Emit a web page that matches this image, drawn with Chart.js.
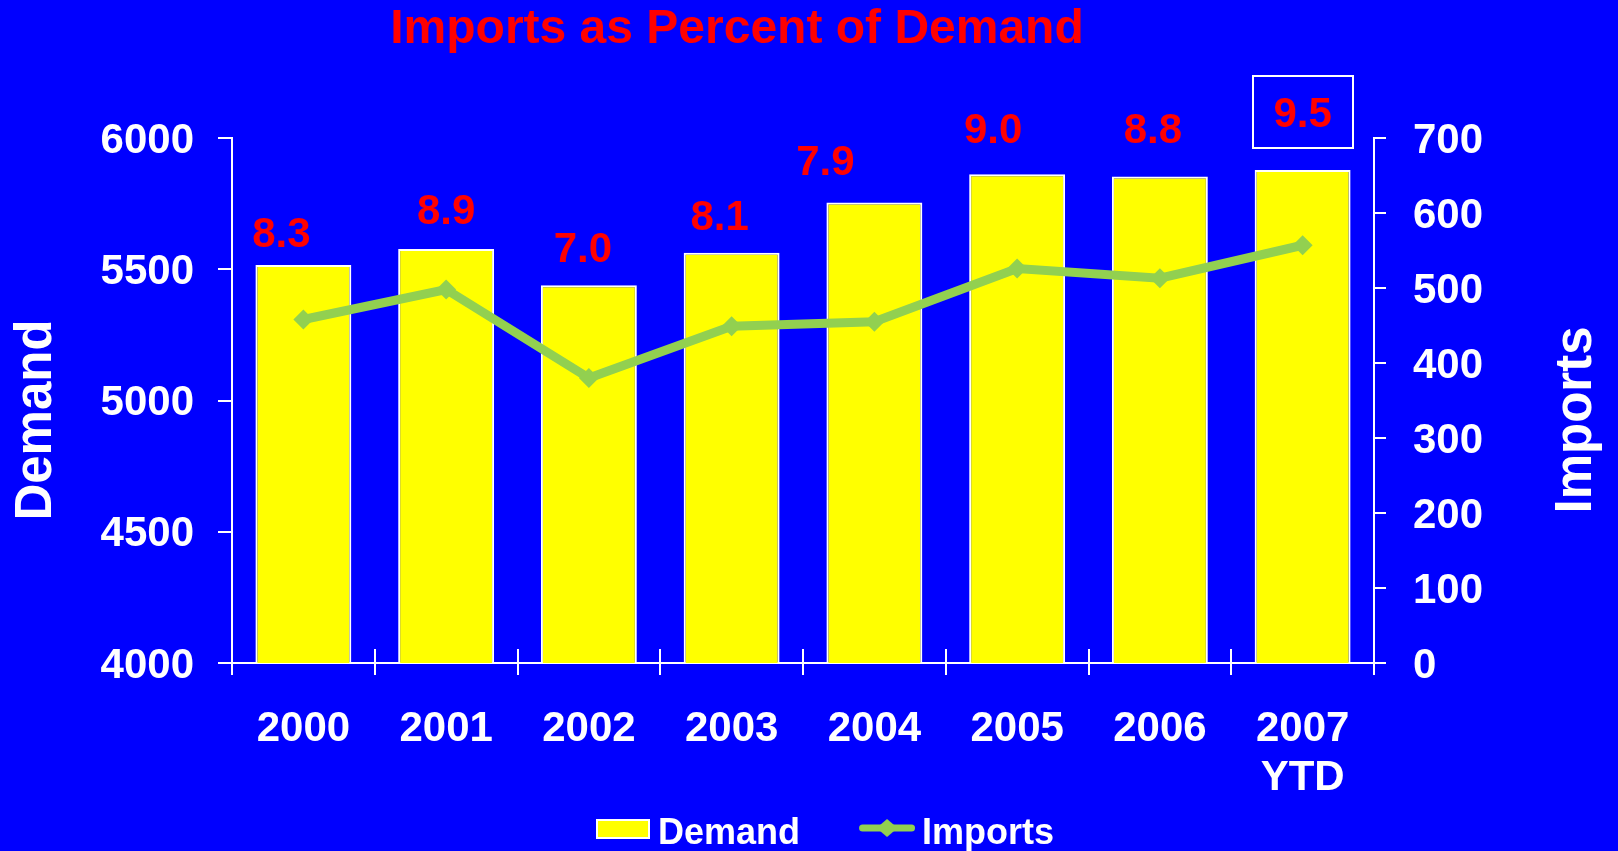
<!DOCTYPE html>
<html>
<head>
<meta charset="utf-8">
<title>Imports as Percent of Demand</title>
<script src="https://cdn.jsdelivr.net/npm/chart.js@4/dist/chart.umd.min.js"></script>
<style>
  html, body { margin: 0; padding: 0; background: #0000FF; }
  #wrap { width: 1618px; height: 851px; }
  canvas { display: block; }
</style>
</head>
<body>
<div id="wrap"><canvas id="chart" width="1618" height="851"></canvas></div>
<script>
// ---- data -------------------------------------------------------------
const years = ['2000', '2001', '2002', '2003', '2004', '2005', '2006', ['2007', 'YTD']];
const demand = [5516, 5577, 5439, 5563, 5754, 5862, 5853, 5878];
const imports = [458, 498, 380, 449, 455, 526, 513, 557];
const importSharePct = [8.3, 8.9, 7.0, 8.1, 7.9, 9.0, 8.8, 9.5];
const demandTicks = [4000, 4500, 5000, 5500, 6000];
const importTicks = [0, 100, 200, 300, 400, 500, 600, 700];

// ---- look -------------------------------------------------------------
const FONT = "'Liberation Sans', Arial, Helvetica, sans-serif";
const YELLOW = '#FFFF00';
const GREEN = '#92D050';
const RED = '#FF0000';
const WHITE = '#FFFFFF';

// legend swatches: transparent lead-in, marker flush right next to the text
function makeSwatch(draw) {
  const c = document.createElement('canvas');
  c.width = 116; c.height = 30;
  draw(c.getContext('2d'), c.width);
  return c;
}
const demandSwatch = makeSwatch((g, w) => {
  g.fillStyle = YELLOW;
  g.fillRect(w - 55, 0, 54, 20);
  g.strokeStyle = WHITE; g.lineWidth = 2;
  g.strokeRect(w - 54, 1, 52, 18);
});
const importsSwatch = makeSwatch((g, w) => {
  const cy = 9, cx = w - 28;
  g.strokeStyle = GREEN; g.lineWidth = 7; g.lineCap = 'round';
  g.beginPath(); g.moveTo(w - 52.5, cy); g.lineTo(w - 3.5, cy); g.stroke();
  g.fillStyle = GREEN;
  g.beginPath();
  g.moveTo(cx, cy - 9); g.lineTo(cx + 10.5, cy); g.lineTo(cx, cy + 9); g.lineTo(cx - 10.5, cy);
  g.closePath(); g.fill();
});

// share labels above the bars, the inner halves of the x ticks, and the titles
const annotations = {
  id: 'annotations',
  beforeDatasetsDraw(chart) {
    const { ctx, chartArea } = chart;
    const x = chart.scales.x;
    ctx.save();
    ctx.strokeStyle = WHITE;
    ctx.lineWidth = 2;
    for (let i = 1; i < years.length; i++) {
      const px = Math.round((x.getPixelForValue(i - 1) + x.getPixelForValue(i)) / 2);
      ctx.beginPath();
      ctx.moveTo(px, chartArea.bottom);
      ctx.lineTo(px, chartArea.bottom - 14);
      ctx.stroke();
    }
    ctx.restore();
  },
  afterDatasetsDraw(chart, args, opts) {
    const ctx = chart.ctx;
    const bars = chart.getDatasetMeta(0).data;
    ctx.save();
    ctx.font = 'bold 42px ' + FONT;
    ctx.textAlign = 'center';
    ctx.textBaseline = 'middle';
    bars.forEach((bar, i) => {
      const [dx, rise] = opts.nudge[i];
      const lx = bar.x + dx;
      const ly = bar.y - rise;
      ctx.fillStyle = RED;
      ctx.fillText(importSharePct[i].toFixed(1), lx, ly);
      if (i === opts.boxed) {
        ctx.strokeStyle = WHITE;
        ctx.lineWidth = 2;
        ctx.strokeRect(Math.round(lx - 50), Math.round(ly - 39), 100, 72);
      }
    });
    ctx.restore();
  },
  afterDraw(chart) {
    const ctx = chart.ctx;
    ctx.save();
    ctx.textAlign = 'center';
    ctx.textBaseline = 'middle';
    ctx.fillStyle = RED;
    ctx.font = 'bold 48px ' + FONT;
    ctx.fillText('Imports as Percent of Demand', 737, 30);

    ctx.fillStyle = WHITE;
    ctx.font = 'bold 51px ' + FONT;
    [['Demand', 37], ['Imports', 1577]].forEach(([text, cx]) => {
      ctx.save();
      ctx.translate(cx, 420);
      ctx.rotate(-Math.PI / 2);
      ctx.fillText(text, 0, 0);
      ctx.restore();
    });
    ctx.restore();
  }
};

const tickFont = { family: FONT, size: 42, weight: 'bold', lineHeight: 1.17 };
const plainNumber = v => String(v);

new Chart(document.getElementById('chart'), {
  data: {
    labels: years,
    datasets: [
      {
        type: 'bar',
        label: 'Demand',
        data: demand,
        yAxisID: 'y',
        order: 2,
        backgroundColor: YELLOW,
        borderColor: WHITE,
        borderWidth: 2,
        borderSkipped: 'start',
        categoryPercentage: 1,
        barPercentage: 0.672
      },
      {
        type: 'line',
        label: 'Imports',
        data: imports,
        yAxisID: 'y1',
        order: 1,
        borderColor: GREEN,
        borderWidth: 9,
        borderJoinStyle: 'miter',
        tension: 0,
        pointStyle: 'rectRot',
        pointRadius: 10,
        pointHoverRadius: 10,
        pointBackgroundColor: GREEN,
        pointBorderColor: GREEN,
        pointBorderWidth: 0
      }
    ]
  },
  options: {
    responsive: false,
    animation: false,
    devicePixelRatio: 1,
    layout: { padding: { top: 138, bottom: -11, left: 0, right: 18 } },
    scales: {
      x: {
        type: 'category',
        offset: true,
        grid: {
          display: true, drawOnChartArea: false, drawTicks: true,
          tickLength: 12, color: WHITE, lineWidth: 2, offset: true
        },
        border: { display: true, color: WHITE, width: 2 },
        ticks: { color: WHITE, font: tickFont, padding: 30, maxRotation: 0, autoSkip: false },
        afterFit(scale) { scale.height = 143; }
      },
      y: {
        type: 'linear',
        position: 'left',
        min: demandTicks[0],
        max: demandTicks[demandTicks.length - 1],
        afterBuildTicks(scale) { scale.ticks = demandTicks.map(v => ({ value: v })); },
        grid: { display: true, drawOnChartArea: false, drawTicks: true, tickLength: 14, color: WHITE, lineWidth: 2 },
        border: { display: true, color: WHITE, width: 2 },
        ticks: { color: WHITE, font: { family: FONT, size: 42, weight: 'bold' }, padding: 24, labelOffset: 3, callback: plainNumber },
        afterFit(scale) { scale.width = 232; }
      },
      y1: {
        type: 'linear',
        position: 'right',
        min: importTicks[0],
        max: importTicks[importTicks.length - 1],
        afterBuildTicks(scale) { scale.ticks = importTicks.map(v => ({ value: v })); },
        grid: { display: true, drawOnChartArea: false, drawTicks: true, tickLength: 12, color: WHITE, lineWidth: 2 },
        border: { display: true, color: WHITE, width: 2 },
        ticks: { color: WHITE, font: { family: FONT, size: 42, weight: 'bold' }, padding: 27, labelOffset: 3, callback: plainNumber },
        afterFit(scale) { scale.width = 226; }
      }
    },
    plugins: {
      title: { display: false },
      tooltip: { enabled: false },
      legend: {
        display: true,
        position: 'bottom',
        align: 'center',
        labels: {
          color: WHITE,
          font: { family: FONT, size: 36, weight: 'bold' },
          usePointStyle: true,
          pointStyleWidth: 94,
          padding: 10,
          sort: (a, b) => a.datasetIndex - b.datasetIndex,
          generateLabels(chart) {
            const items = Chart.defaults.plugins.legend.labels.generateLabels(chart);
            items.forEach(item => {
              item.pointStyle = item.datasetIndex === 0 ? demandSwatch : importsSwatch;
              item.fontColor = WHITE;
            });
            return items;
          }
        }
      },
      annotations: {
        nudge: [[-22, 30], [0, 37], [-6, 35], [-12, 34], [-49, 39], [-24, 43], [-7, 45], [0, 55]],
        boxed: 7
      }
    }
  },
  plugins: [annotations]
});
</script>
</body>
</html>
